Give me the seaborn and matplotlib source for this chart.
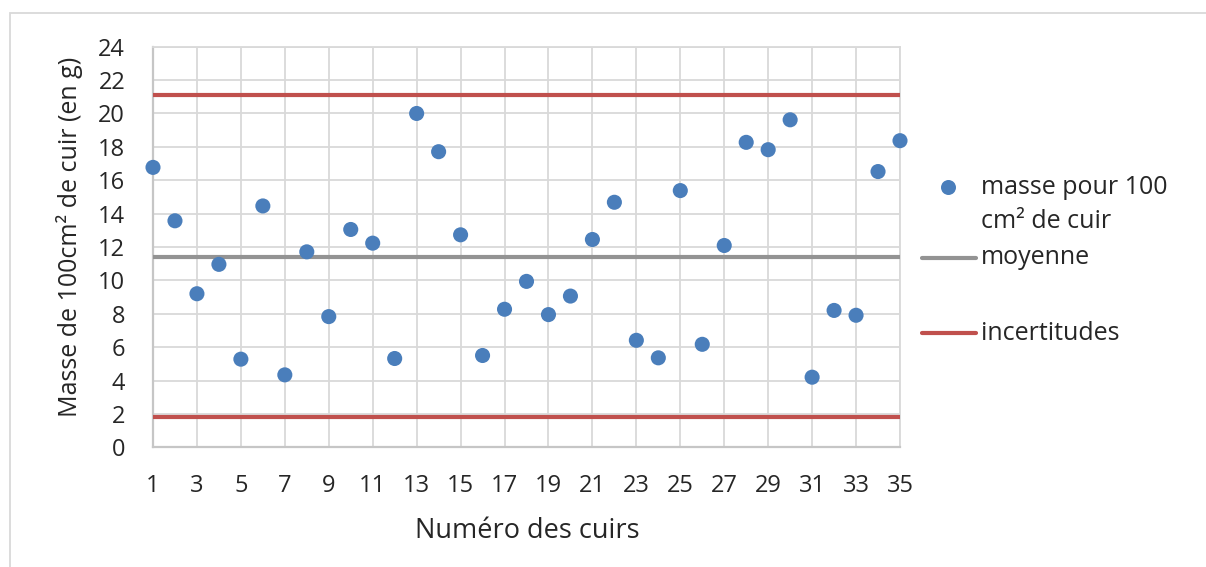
import numpy as np
import pandas as pd
import matplotlib
matplotlib.use("Agg")
import matplotlib.pyplot as plt
from matplotlib.lines import Line2D
from matplotlib.patches import Rectangle
import seaborn as sns

# Mass per 100 cm² for each leather sample
numeros = list(range(1, 36))
masses = [16.77, 13.57, 9.20, 10.96, 5.28, 14.46, 4.34, 11.71, 7.83, 13.05,
          12.23, 5.32, 20.00, 17.71, 12.73, 5.50, 8.27, 9.94, 7.95, 9.06,
          12.45, 14.68, 6.41, 5.36, 15.38, 6.17, 12.09, 18.27, 17.83, 19.62,
          4.20, 8.20, 7.91, 16.52, 18.37]
moyenne = 11.41
incertitudes = [1.79, 21.08]

x_ticks = list(range(1, 36, 2))
y_ticks = list(range(0, 25, 2))

sns.set_style("white")
plt.rcParams["font.family"] = ["Open Sans", "DejaVu Sans"]

W, H = 1206, 567
fig = plt.figure(figsize=(W / 100, H / 100), dpi=100)

def fx(px):
    return px / W

def fy(py):
    return 1 - py / H

left, right, top, bottom = 153, 900, 46.7, 447.3
ax = fig.add_axes([fx(left), fy(bottom), fx(right - left), (bottom - top) / H])

blue = "#4a7ebb"
red = "#c0504d"
grey = "#939393"
grid = "#d9d9d9"
text_col = "#262626"
fs_tick = 17
fs_leg = 18
fs_ylab = 18
fs_xlab = 19.5

df = pd.DataFrame({"numero": numeros, "masse": masses})
sns.scatterplot(data=df, x="numero", y="masse", ax=ax, s=118, color=blue,
                edgecolor="none", zorder=5, clip_on=False)

ax.axhline(moyenne, color=grey, lw=3.0, zorder=3, solid_capstyle="butt")
for v in incertitudes:
    ax.axhline(v, color=red, lw=3.0, zorder=3, solid_capstyle="butt")

ax.set_xlim(1, 35)
ax.set_ylim(0, 24)
ax.set_xticks(x_ticks)
ax.set_yticks(y_ticks)
ax.set_xticklabels([str(t) for t in x_ticks], fontsize=fs_tick, color=text_col)
ax.set_yticklabels([str(t) for t in y_ticks], fontsize=fs_tick, color=text_col)
ax.tick_params(axis="both", length=0)
ax.tick_params(axis="x", pad=19.5)
ax.tick_params(axis="y", pad=20)
ax.grid(True, color=grid, lw=1.3, zorder=0)
ax.set_axisbelow(True)
for side in ("left", "bottom"):
    ax.spines[side].set_color("#c6c6c6")
    ax.spines[side].set_linewidth(1.6)
for side in ("top", "right"):
    ax.spines[side].set_color(grid)
    ax.spines[side].set_linewidth(1.3)

ax.set_xlabel("")
ax.set_ylabel("")
fig.text(fx(527), fy(531), "Numéro des cuirs", fontsize=fs_xlab,
         color=text_col, ha="center", va="center")
fig.text(fx(70), fy(237), "Masse de 100cm² de cuir (en g)", fontsize=fs_ylab,
         color=text_col, ha="center", va="center", rotation=90)

# Legend drawn at the right of the plot
fig.add_artist(Line2D([fx(948)], [fy(187)], marker="o", markersize=10.8,
                      color=blue, markeredgecolor="none", linestyle="none"))
fig.text(fx(981), fy(187), "masse pour 100", fontsize=fs_leg, color=text_col,
         ha="left", va="center")
fig.text(fx(981), fy(222), "cm² de cuir", fontsize=fs_leg, color=text_col,
         ha="left", va="center")
fig.add_artist(Line2D([fx(922), fx(976)], [fy(258), fy(258)], color=grey,
                      lw=3.0, solid_capstyle="round"))
fig.text(fx(981), fy(258), "moyenne", fontsize=fs_leg, color=text_col,
         ha="left", va="center")
fig.add_artist(Line2D([fx(922), fx(976)], [fy(333), fy(333)], color=red,
                      lw=3.0, solid_capstyle="round"))
fig.text(fx(981), fy(333), "incertitudes", fontsize=fs_leg, color=text_col,
         ha="left", va="center")

# Chart frame
fig.add_artist(Rectangle((fx(10), -0.02), 1.1, fy(13) + 0.02,
                         transform=fig.transFigure, fill=False,
                         edgecolor=grid, lw=1.3))

fig.savefig("out.png", dpi=100, facecolor="white")
